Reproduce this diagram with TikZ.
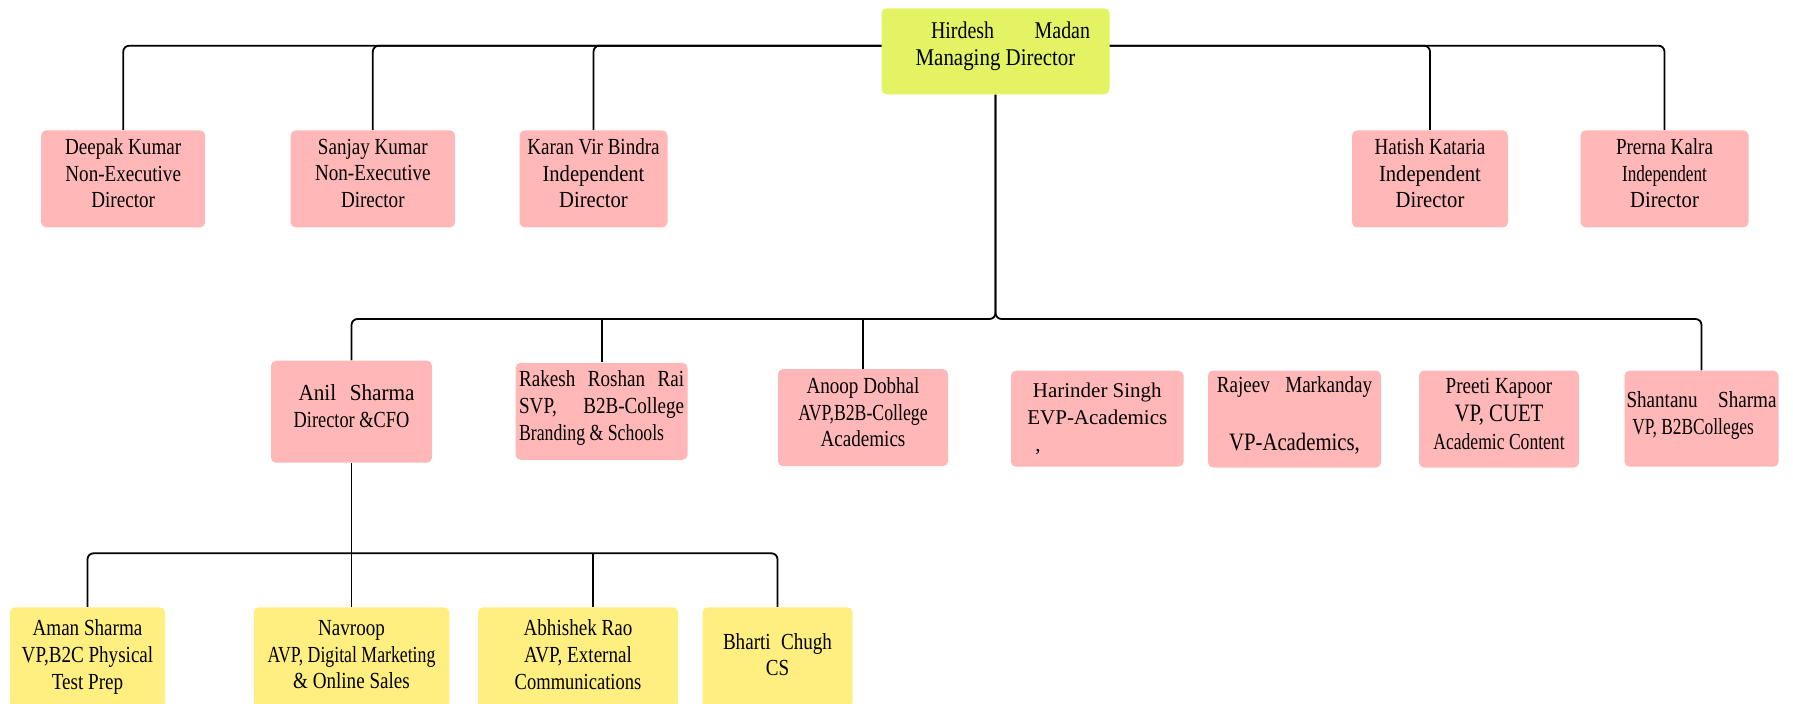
\documentclass[tikz,border=0pt]{standalone}
\usepackage{fontspec}
\setmainfont{Liberation Serif}[FakeStretch=0.83]
\newfontfamily\plainserif{Liberation Serif}
\usepackage{graphicx}
\usetikzlibrary{backgrounds,calc}
\definecolor{limebox}{HTML}{E3F363}
\definecolor{pinkbox}{HTML}{FFB7B7}
\definecolor{yellowbox}{HTML}{FFEF80}
\newcommand\sx[2]{\scalebox{#1}[1]{#2}}
\newcommand\jw[2]{\makebox[#1][s]{#2}}
\newcommand\dpt[1]{\rule[-#1]{0pt}{0pt}}
\begin{document}
\begin{tikzpicture}[x=0.5pt,y=-0.5pt,
  box/.style={rectangle, rounded corners=2.5pt, inner sep=0pt, align=center, font=\fontsize{11.5pt}{13.35pt}\selectfont},
  lift/.style={execute at end node={\dpt{#1}}},
  topbox/.style={box, fill=limebox, lift=7.5pt},
  pinkb/.style={box, fill=pinkbox, lift=5.6pt},
  yelb/.style={box, fill=yellowbox, lift=2.8pt},
  conn/.style={draw=black, line width=0.9pt, rounded corners=3pt}]
\useasboundingbox (0,0) rectangle (1793,703);

% top
\node[topbox, minimum width=114pt, minimum height=43pt, font=\fontsize{12pt}{13.7pt}\selectfont] (md) at (995.5,51.3)
  {\hspace*{15pt}\jw{79.5pt}{Hirdesh Madan}\\\sx{1.05}{Managing Director}};

% board row
\node[pinkb, minimum width=82pt, minimum height=48.5pt] (dk) at (123.2,178.9) {Deepak Kumar\\Non-Executive\\Director};
\node[pinkb, minimum width=82.25pt, minimum height=48.5pt] (sk) at (372.8,178.9) {Sanjay Kumar\\Non-Executive\\Director};
\node[pinkb, minimum width=74pt, minimum height=48.5pt] (kb) at (593.5,178.9) {Karan Vir Bindra\\\sx{1.08}{Independent}\\\sx{1.08}{Director}};
\node[pinkb, minimum width=78pt, minimum height=48.5pt] (hk) at (1430,178.9) {Hatish Kataria\\\sx{1.08}{Independent}\\\sx{1.08}{Director}};
\node[pinkb, minimum width=84pt, minimum height=48.5pt] (pk) at (1664.5,178.9) {Prerna Kalra\\\sx{0.9}{Independent}\\\sx{1.08}{Director}};

% second row
\node[pinkb, lift=1pt, minimum width=80.5pt, minimum height=51pt] (anil) at (351.5,411.7)
  {\hspace*{5pt}\makebox[58pt][s]{\sx{1.11}{Anil}\hfill\sx{1.11}{Sharma}}\\\sx{0.96}{Director \&CFO}};
\node[pinkb, minimum width=86pt, minimum height=48.5pt] (rakesh) at (601.6,411.3)
  {\jw{82.5pt}{Rakesh Roshan Rai}\\\jw{82.5pt}{SVP, B2B-College}\\\makebox[82.5pt][l]{\sx{0.93}{Branding \& Schools}}};
\node[pinkb, minimum width=85pt, minimum height=48.5pt] (anoop) at (863,417.7) {Anoop Dobhal\\\sx{0.93}{AVP,B2B-College}\\Academics};
\node[box, fill=pinkbox, minimum width=86.3pt, minimum height=48pt, font=\plainserif\fontsize{10.5pt}{13.5pt}\selectfont] (harinder) at (1097.3,418.7)
  {Harinder Singh\\EVP-Academics\\\makebox[62pt][l]{,}};
\node[pinkb, minimum width=86.5pt, minimum height=48.5pt, font=\fontsize{11.5pt}{14.5pt}\selectfont] (rajeev) at (1294.5,419)
  {\jw{77.7pt}{Rajeev Markanday}\\\mbox{}\\{\fontsize{12.5pt}{14.5pt}\selectfont VP-Academics,}};
\node[pinkb, minimum width=80pt, minimum height=48.5pt, font=\fontsize{11.5pt}{14pt}\selectfont] (preeti) at (1499,419)
  {Preeti Kapoor\\{\fontsize{12.5pt}{14pt}\selectfont VP, CUET}\\\sx{0.92}{Academic Content}};
\node[pinkb, lift=3.6pt, minimum width=77pt, minimum height=48pt] (shantanu) at (1701.5,418.7)
  {\jw{75pt}{Shantanu Sharma}\\\makebox[75pt][l]{\hspace*{2.9pt}\sx{0.91}{VP, B2BColleges}}};

% third row
\node[yelb, minimum width=77.5pt, minimum height=50pt] (aman) at (87.5,657.3) {Aman Sharma\\VP,B2C Physical\\Test Prep};
\node[yelb, minimum width=97.75pt, minimum height=50pt] (navroop) at (351.5,657.3) {Navroop\\\sx{0.93}{AVP, Digital Marketing}\\\& Online Sales};
\node[yelb, minimum width=100pt, minimum height=50pt] (abhishek) at (578,657.3) {Abhishek Rao\\AVP, External\\\sx{0.97}{Communications}};
\node[yelb, lift=0.5pt, minimum width=75pt, minimum height=50pt] (bharti) at (777.5,657.3) {\jw{54.5pt}{Bharti Chugh}\\CS};

\begin{pgfonlayer}{background}
\coordinate (hub) at (995.5,45.7);
\draw[conn] (hub) -| (dk.north);
\draw[conn] (hub) -| (sk.north);
\draw[conn] (hub) -| (kb.north);
\draw[conn] (hub) -| (hk.north);
\draw[conn] (hub) -| (pk.north);

\coordinate (j1) at (995.5,319);
\draw[conn] (md.south) -- (j1) -| (anil.north);
\draw[conn] (md.south) -- (j1) -| (shantanu.north);
\draw[conn] (rakesh.north) -- (rakesh.north |- j1);
\draw[conn] (anoop.north) -- (anoop.north |- j1);

\coordinate (j2) at (351.5,553.3);
\draw[conn] (anil.south) -- (navroop.north);
\draw[conn] (j2) -| (aman.north);
\draw[conn] (j2) -| (bharti.north);
\coordinate (abx) at ($(abhishek.north)+(15,0)$);
\draw[conn] (abx) -- (abx |- j2);
\end{pgfonlayer}
\end{tikzpicture}
\end{document}
